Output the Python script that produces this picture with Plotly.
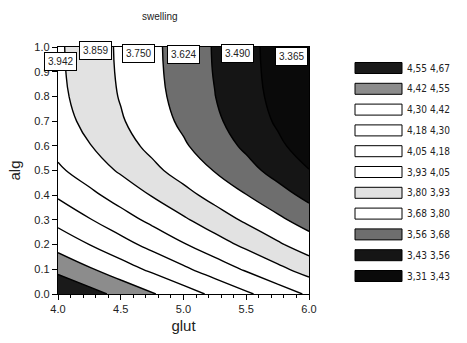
import plotly.graph_objects as go

# ---- data ----
glut = [4.0, 4.25, 4.5, 4.75, 5.0, 5.25, 5.5, 5.75, 6.0]
alg = [0.0, 0.1, 0.2, 0.3, 0.4, 0.5, 0.6, 0.7, 0.8, 0.9, 1.0]
swelling = [
    [4.670, 4.591, 4.511, 4.432, 4.353, 4.273, 4.194, 4.114, 4.035],
    [4.514, 4.435, 4.355, 4.276, 4.197, 4.117, 4.038, 3.958, 3.879],
    [4.378, 4.299, 4.219, 4.140, 4.061, 3.981, 3.902, 3.822, 3.743],
    [4.262, 4.183, 4.103, 4.024, 3.945, 3.865, 3.786, 3.706, 3.627],
    [4.160, 4.081, 4.001, 3.922, 3.843, 3.763, 3.684, 3.604, 3.525],
    [4.072, 3.993, 3.913, 3.834, 3.755, 3.675, 3.596, 3.516, 3.437],
    [4.012, 3.933, 3.853, 3.774, 3.695, 3.615, 3.536, 3.456, 3.377],
    [3.975, 3.896, 3.816, 3.737, 3.658, 3.578, 3.499, 3.419, 3.340],
    [3.956, 3.877, 3.797, 3.718, 3.639, 3.559, 3.480, 3.400, 3.321],
    [3.948, 3.869, 3.789, 3.710, 3.631, 3.551, 3.472, 3.392, 3.313],
    [3.945, 3.866, 3.786, 3.707, 3.628, 3.548, 3.469, 3.389, 3.310],
]
levels = [3.31, 3.43, 3.56, 3.68, 3.80, 3.93, 4.05, 4.18, 4.30, 4.42, 4.55, 4.67]
level_labels = ["3,31", "3,43", "3,56", "3,68", "3,80", "3,93", "4,05",
                "4,18", "4,30", "4,42", "4,55", "4,67"]
band_colors = ["#0a0a0a", "#151515", "#6e6e6e", "#ffffff", "#e2e2e2", "#ffffff",
               "#ffffff", "#ffffff", "#ffffff", "#8c8c8c", "#1a1a1a"]
label_text = ["3.942", "3.859", "3.750", "3.624", "3.490", "3.365"]
label_glut = [4.02, 4.30, 4.64, 5.00, 5.43, 5.86]
label_alg = [0.94, 0.985, 0.975, 0.97, 0.975, 0.96]

zmin, zmax = levels[0], levels[-1]
n = len(band_colors)
cs = []
for i, c in enumerate(band_colors):
    cs.append([i / n, c])
    cs.append([(i + 1) / n, c])

fig = go.Figure()
fig.add_trace(go.Contour(
    x=glut, y=alg, z=swelling,
    zmin=zmin, zmax=zmax, colorscale=cs, showscale=False,
    autocontour=False,
    contours=dict(start=zmin, end=zmax, size=(zmax - zmin) / n, coloring="fill"),
    line=dict(color="black", width=1.4, smoothing=1.3),
    hoverinfo="skip",
))

font = "Liberation Sans, Arial, sans-serif"
narrow = "Liberation Sans Narrow, DejaVu Sans Condensed, sans-serif"

for t, gx, ay in zip(label_text, label_glut, label_alg):
    fig.add_annotation(x=gx, y=ay, xref="x", yref="y", text=t, showarrow=False,
                       xanchor="center", yanchor="middle",
                       bgcolor="white", bordercolor="black", borderwidth=1, borderpad=3,
                       font=dict(family=font, size=10, color="#222"))

# legend (key) at right
L, T, B = 58, 47, 294
W, H = 251, 247
def px(x):
    return (x - L) / W
def py(y):
    return (B - y) / H

shapes = []
for k in range(n):
    band = n - 1 - k
    yc = 68 + 20.8 * k
    shapes.append(dict(type="rect", xref="paper", yref="paper",
                       x0=px(355), x1=px(402), y0=py(yc + 5.5), y1=py(yc - 5.5),
                       fillcolor=band_colors[band], line=dict(color="black", width=1)))
    fig.add_annotation(x=px(417), y=py(yc), xref="paper", yref="paper",
                       xanchor="center", yanchor="middle",
                       text=level_labels[band], showarrow=False,
                       font=dict(family=narrow, size=10, color="#222"))
    fig.add_annotation(x=px(440), y=py(yc), xref="paper", yref="paper",
                       xanchor="center", yanchor="middle",
                       text=level_labels[band + 1], showarrow=False,
                       font=dict(family=narrow, size=10, color="#222"))

fig.add_annotation(x=px(160), y=py(16), xref="paper", yref="paper", text="swelling",
                   xanchor="center", yanchor="middle",
                   showarrow=False, font=dict(family=font, size=10, color="#222"))

fig.update_layout(
    width=467, height=343,
    margin=dict(l=L, r=467 - 309, t=T, b=343 - B),
    paper_bgcolor="white", plot_bgcolor="white",
    shapes=shapes, showlegend=False,
)
fig.update_xaxes(range=[4.0, 6.0], tickvals=[4.0, 4.5, 5.0, 5.5, 6.0],
                 ticktext=["4.0", "4.5", "5.0", "5.5", "6.0"],
                 ticks="outside", ticklen=5, tickcolor="black",
                 minor=dict(ticks="outside", ticklen=3, dtick=0.1, tickcolor="black"),
                 showline=True, linecolor="black", linewidth=1.3, mirror=True,
                 showgrid=False, zeroline=False,
                 tickfont=dict(family=font, size=11, color="#222"),
                 title=dict(text="glut", font=dict(family=font, size=15, color="#222"), standoff=6))
fig.update_yaxes(range=[0.0, 1.0], tickvals=[i / 10 for i in range(11)],
                 ticktext=["0.0", "0.1", "0.2", "0.3", "0.4", "0.5", "0.6", "0.7", "0.8", "0.9", "1.0"],
                 ticks="outside", ticklen=5, tickcolor="black",
                 showline=True, linecolor="black", linewidth=1.3, mirror=True,
                 showgrid=False, zeroline=False,
                 tickfont=dict(family=font, size=11, color="#222"),
                 title=dict(text="alg", font=dict(family=font, size=15, color="#222"), standoff=10))

fig.write_html("out.html")
